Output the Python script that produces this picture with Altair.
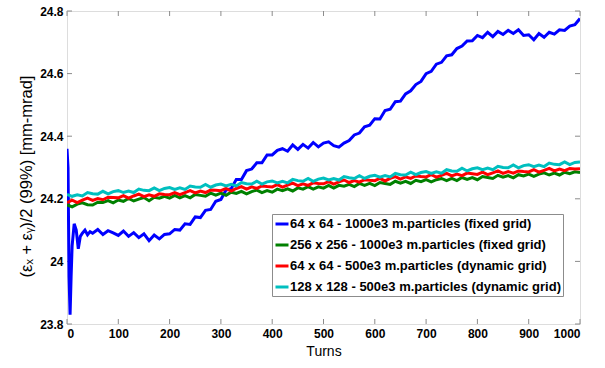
import altair as alt
import pandas as pd

# ---------------- data ----------------
series_names = [
    "64 x 64 - 1000e3 m.particles (fixed grid)",
    "256 x 256 - 1000e3 m.particles (fixed grid)",
    "64 x 64 - 500e3 m.particles (dynamic grid)",
    "128 x 128 - 500e3 m.particles (dynamic grid)",
]
series_colors = ["#0000ff", "#008000", "#ff0000", "#00bfbf"]

turns = list(range(0, 1001, 10))

blue_turns = [0, 2, 4, 6, 8, 10, 14, 18, 22, 26, 30, 35, 40, 45] + list(range(50, 1001, 10))
blue = [24.36, 24.30, 23.95, 23.83, 23.95, 24.05, 24.12, 24.10, 24.04, 24.08, 24.09, 24.10, 24.085, 24.095,
        # 50 .. 140
        24.090, 24.102, 24.086, 24.098, 24.091, 24.083, 24.097, 24.080, 24.092, 24.076,
        # 150 .. 240
        24.088, 24.066, 24.084, 24.072, 24.086, 24.088, 24.102, 24.100, 24.120, 24.118,
        # 250 .. 340
        24.142, 24.140, 24.163, 24.166, 24.192, 24.198, 24.228, 24.232, 24.262, 24.262,
        # 350 .. 440
        24.290, 24.295, 24.315, 24.315, 24.340, 24.340, 24.355, 24.360, 24.352, 24.372,
        # 450 .. 540
        24.358, 24.374, 24.362, 24.380, 24.366, 24.378, 24.382, 24.370, 24.365, 24.378,
        # 550 .. 640
        24.386, 24.404, 24.410, 24.430, 24.435, 24.456, 24.455, 24.482, 24.486, 24.510,
        # 650 .. 740
        24.512, 24.535, 24.545, 24.565, 24.575, 24.600, 24.607, 24.630, 24.636, 24.657,
        # 750 .. 840
        24.660, 24.680, 24.688, 24.704, 24.705, 24.722, 24.715, 24.732, 24.718, 24.735,
        # 850 .. 940
        24.725, 24.738, 24.728, 24.740, 24.722, 24.724, 24.708, 24.728, 24.716, 24.732,
        # 950 .. 1000
        24.726, 24.740, 24.738, 24.752, 24.756, 24.776]

green = [24.181, 24.174, 24.183, 24.187, 24.181, 24.180, 24.189, 24.188, 24.194, 24.187,
         24.196, 24.192, 24.201, 24.193, 24.199, 24.204, 24.194, 24.205, 24.202, 24.208,
         24.202, 24.211, 24.203, 24.210, 24.203, 24.214, 24.211, 24.208, 24.218, 24.212,
         24.218, 24.211, 24.221, 24.217, 24.224, 24.216, 24.223, 24.228, 24.220, 24.226,
         24.221, 24.231, 24.226, 24.232, 24.225, 24.235, 24.231, 24.239, 24.231, 24.238,
         24.234, 24.243, 24.234, 24.243, 24.240, 24.246, 24.239, 24.249, 24.243, 24.249,
         24.242, 24.252, 24.249, 24.246, 24.256, 24.250, 24.256, 24.249, 24.259, 24.255,
         24.261, 24.254, 24.261, 24.265, 24.258, 24.265, 24.258, 24.268, 24.262, 24.268,
         24.261, 24.271, 24.268, 24.265, 24.275, 24.269, 24.274, 24.267, 24.277, 24.273,
         24.279, 24.272, 24.279, 24.283, 24.276, 24.282, 24.276, 24.285, 24.280, 24.286,
         24.284]

red = [24.188, 24.196, 24.188, 24.196, 24.202, 24.195, 24.201, 24.197, 24.205, 24.204,
       24.203, 24.210, 24.202, 24.209, 24.215, 24.207, 24.213, 24.208, 24.216, 24.214,
       24.213, 24.220, 24.213, 24.220, 24.226, 24.219, 24.225, 24.220, 24.228, 24.227,
       24.226, 24.233, 24.225, 24.233, 24.239, 24.231, 24.238, 24.233, 24.241, 24.239,
       24.238, 24.245, 24.237, 24.244, 24.250, 24.242, 24.248, 24.243, 24.251, 24.249,
       24.248, 24.255, 24.247, 24.254, 24.260, 24.252, 24.258, 24.253, 24.261, 24.259,
       24.258, 24.265, 24.257, 24.265, 24.271, 24.263, 24.270, 24.265, 24.273, 24.271,
       24.270, 24.277, 24.269, 24.275, 24.281, 24.273, 24.279, 24.274, 24.282, 24.280,
       24.278, 24.285, 24.277, 24.283, 24.289, 24.281, 24.287, 24.282, 24.289, 24.287,
       24.286, 24.293, 24.285, 24.291, 24.297, 24.289, 24.295, 24.290, 24.297, 24.295,
       24.296]

cyan = [24.214, 24.208, 24.213, 24.209, 24.220, 24.216, 24.215, 24.224, 24.216, 24.223,
        24.226, 24.220, 24.225, 24.220, 24.231, 24.227, 24.226, 24.235, 24.226, 24.233,
        24.236, 24.230, 24.235, 24.230, 24.241, 24.238, 24.237, 24.246, 24.237, 24.244,
        24.247, 24.241, 24.246, 24.241, 24.252, 24.248, 24.247, 24.256, 24.247, 24.254,
        24.257, 24.251, 24.256, 24.251, 24.262, 24.258, 24.256, 24.265, 24.256, 24.263,
        24.266, 24.260, 24.265, 24.260, 24.271, 24.267, 24.265, 24.274, 24.265, 24.272,
        24.275, 24.269, 24.274, 24.270, 24.281, 24.277, 24.276, 24.285, 24.277, 24.284,
        24.287, 24.281, 24.286, 24.282, 24.293, 24.289, 24.288, 24.298, 24.289, 24.296,
        24.299, 24.293, 24.298, 24.293, 24.304, 24.300, 24.299, 24.308, 24.299, 24.306,
        24.309, 24.303, 24.308, 24.303, 24.314, 24.310, 24.309, 24.318, 24.309, 24.316,
        24.318]

x_ticks = list(range(0, 1001, 100))
y_ticks = [23.8, 24.0, 24.2, 24.4, 24.6, 24.8]

# ---------------- build table ----------------
rows = []
for k, (name, tt, vv) in enumerate([
    (series_names[0], blue_turns, blue),
    (series_names[1], turns, green),
    (series_names[2], turns, red),
    (series_names[3], turns, cyan),
]):
    for i, (t, v) in enumerate(zip(tt, vv)):
        rows.append({"turn": t, "val": v, "series": name, "k": k, "i": i})
df = pd.DataFrame(rows)

FONT = "Liberation Sans"
W, H = 513, 313
GRAY = "#8c8c8c"

xscale = alt.Scale(domain=[0, 1000], nice=False, zero=False)
yscale = alt.Scale(domain=[23.8, 24.8], nice=False, zero=False)

lines = alt.Chart(df).mark_line(strokeWidth=3, clip=True).encode(
    x=alt.X("turn:Q", scale=xscale,
            axis=alt.Axis(values=x_ticks, format="d", title="Turns", ticks=False, domain=False, grid=False,
                          labelFont=FONT, labelFontWeight="bold", labelFontSize=12,
                          labelColor="black", labelPadding=4,
                          titleFont=FONT, titleFontSize=14, titleFontWeight="normal",
                          titleColor="black", titlePadding=5)),
    y=alt.Y("val:Q", scale=yscale,
            axis=alt.Axis(values=y_ticks, format="~g", title="(εₓ + εᵧ)/2 (99%) [mm-mrad]",
                          ticks=False, domain=False, grid=False,
                          labelFont=FONT, labelFontWeight="bold", labelFontSize=12,
                          labelColor="black", labelPadding=4,
                          titleFont=FONT, titleFontSize=16.5, titleFontWeight="normal",
                          titleColor="black", titlePadding=5, titleY=165)),
    color=alt.Color("series:N",
                    scale=alt.Scale(domain=series_names, range=series_colors),
                    sort=series_names,
                    legend=alt.Legend(orient="none", legendX=205, legendY=203, title=None,
                                      strokeColor=GRAY, fillColor="white", padding=2,
                                      symbolType="stroke", symbolStrokeWidth=3, symbolSize=169,
                                      labelFont=FONT, labelFontWeight="bold", labelFontSize=13,
                                      labelColor="black", labelLimit=400, labelOffset=0,
                                      rowPadding=6)),
    detail="k:N",
    order="i:Q",
)

xt = pd.DataFrame({"t": x_ticks})
yt = pd.DataFrame({"v": y_ticks})

tick_bottom = alt.Chart(xt).mark_rule(color=GRAY, strokeWidth=1).encode(
    x=alt.X("t:Q", scale=xscale), y=alt.value(H), y2=alt.value(H - 5))
tick_top = alt.Chart(xt).mark_rule(color=GRAY, strokeWidth=1).encode(
    x=alt.X("t:Q", scale=xscale), y=alt.value(0), y2=alt.value(5))
tick_left = alt.Chart(yt).mark_rule(color=GRAY, strokeWidth=1).encode(
    y=alt.Y("v:Q", scale=yscale), x=alt.value(0), x2=alt.value(5))
tick_right = alt.Chart(yt).mark_rule(color=GRAY, strokeWidth=1).encode(
    y=alt.Y("v:Q", scale=yscale), x=alt.value(W), x2=alt.value(W - 5))

chart = alt.layer(tick_bottom, tick_top, tick_left, tick_right, lines).properties(
    width=W, height=H,
    autosize=alt.AutoSizeParams(type="none"),
    padding={"left": 67, "top": 11, "right": 25, "bottom": 44},
).configure_view(stroke=GRAY, strokeWidth=1).configure(background="white")

chart.save("out.html", embed_options={"renderer": "svg", "actions": False})
